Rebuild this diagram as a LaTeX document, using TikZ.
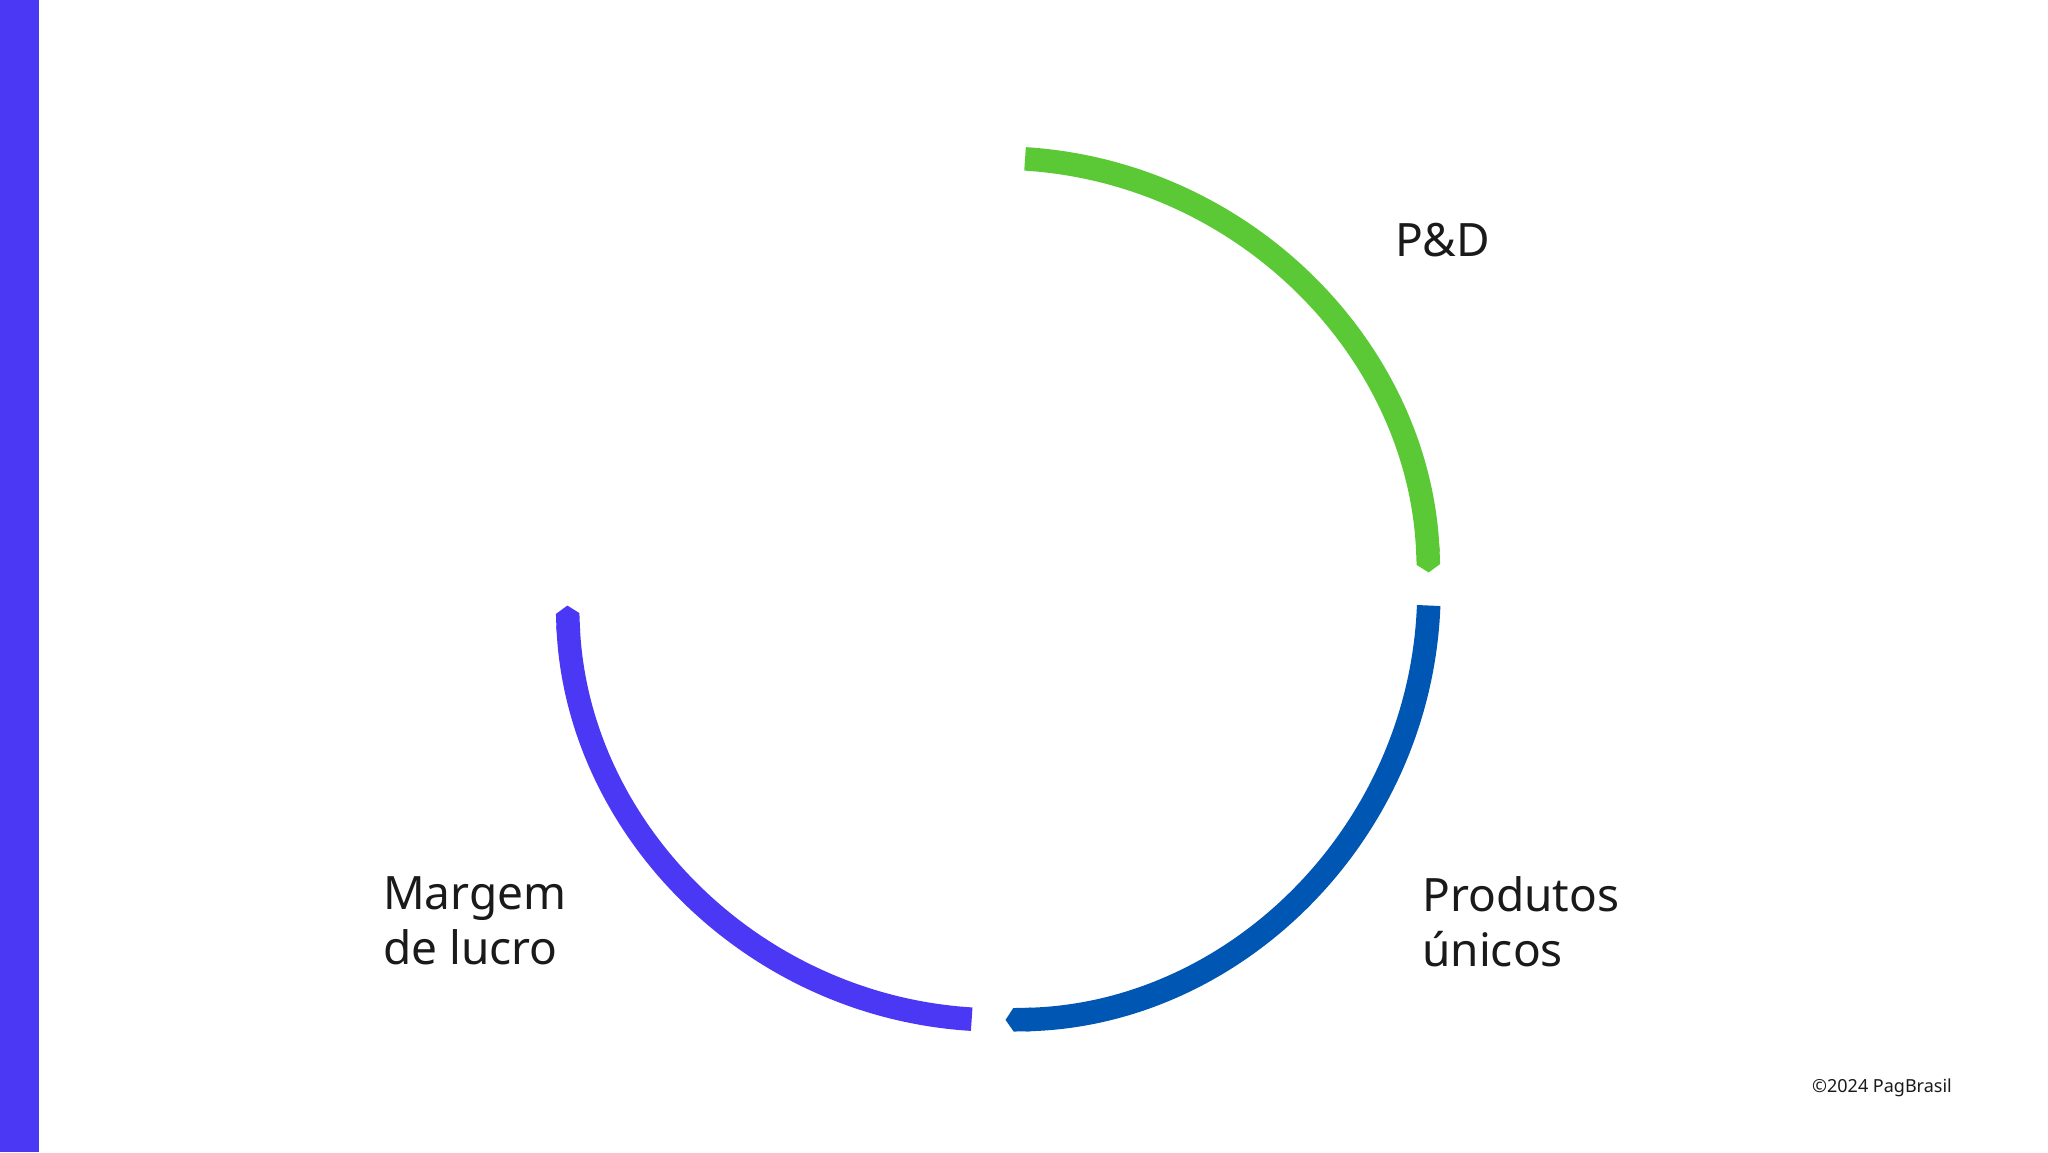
\documentclass[tikz,border=0pt]{standalone}
\usepackage{fontspec}
\setmainfont{Noto Sans}
\usetikzlibrary{arrows.meta}
\definecolor{cgreen}{HTML}{5AC935}
\definecolor{cblue}{HTML}{0057B3}
\definecolor{cpurple}{HTML}{4B38F5}
\definecolor{ctext}{HTML}{1A1A1A}
\tikzset{
  seg/.style={line width=23.5pt, -{Triangle Cap[length=8pt]}},
  lbl/.style={anchor=base west, font=\fontsize{46}{55}\selectfont\bfseries, text=ctext, align=left, inner sep=0pt},
}
\begin{document}
\begin{tikzpicture}[x=1pt,y=1pt]
\useasboundingbox (0,0) rectangle (2048,1152);
\fill[white] (0,0) rectangle (2048,1152);
\fill[cpurple] (0,0) rectangle (39,1152);
\coordinate (c) at (998,563);
\draw[seg, cgreen] ([shift={(86.4:431)}]c) arc[start angle=86.4, end angle=2.2, radius=431];
\draw[seg, cblue] ([shift={(-2.2:431)}]c) arc[start angle=-2.2, end angle=-89, radius=431];
\draw[seg, cpurple] ([shift={(266.5:431)}]c) arc[start angle=266.5, end angle=182.2, radius=431];
\node[lbl] (pd) at (1395,895) {P\&D};
\node[lbl, anchor=north west] (pu) at (1422,276) {Produtos\\únicos};
\node[lbl, anchor=north west] (ml) at (383,276) {Margem\\de lucro};
\node[anchor=base east, font=\fontsize{18}{22}\selectfont, text=ctext, inner sep=0pt] (cp) at (1952,60) {©2024 PagBrasil};
\end{tikzpicture}
\end{document}
